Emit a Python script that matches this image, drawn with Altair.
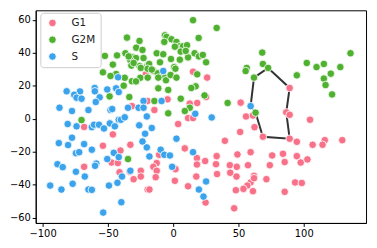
import altair as alt
import pandas as pd

# ---- data ----
g1_x = [-21, -19.7, -31.6, 15.2, 26, 25.2, -4.3, 18.4, 12.7, 51.7, -14.4, 11.4, 15.2, 55.8, 61.1,
        89.2, 86.6, 89.2, 104.8, -68.2, -46.2, -53.8, -32.8, -40.4, -47.2, -42.4, -68.2, -41.1,
        -33.3, -24.8, -30.3, -24.8, -19.5, 3.8, 62.3, 51.3, 39.6, 8.9, -10.8, 33.3, 49.2, 59.3,
        24.5, 18.2, -12.6, 32.8, 18.2, 43.4, 57.3, -15.2, 1.8, -12.6, 48.7, 43.7, 33.6, 17.7,
        -13.4, 48.5, 61.9, 1.3, 59.3, 56.8, 53.8, 48, 11.4, -18.2, 61.1, 24.8, 46.7, 68.7, 89.2,
        94.7, 116.1, 106.8, 114.4, 129.5, 75.8, 84.1, 94.7, 74, 85.4, 97.7, 102.8, 61.9, 71.4,
        93.4, 98.5, 85.4]
g1_y = [27, 10.8, 7.7, 28.6, 25, 13.2, 11.8, 9.6, 9.2, 9.8, 5.3, 0.4, 0.4, 1.4, 2,
        18.7, 3.9, 2.4, -0.6, -5, -9.5, -16.4, -15.8, -19.3, -26.6, -26.9, -29.2, -32.5,
        -32.2, -31.6, -36.7, -35.1, -43, -3.2, -5.1, -8, -13.4, -18, -21.9, -22.7, -21.7, -20.3,
        -25.7, -23.9, -26.9, -27.6, -27.8, -28.2, -28.2, -29.2, -30.6, -31.6, -29.2, -32.8, -33.6, -35.1,
        -35.5, -35.1, -34.7, -37.7, -38.7, -40.6, -42.6, -43.4, -41, -43, -44, -50.9, -54.4, -10.9, -12.1,
        -14, -13, -15.8, -15.8, -13, -22.3, -21.3, -22.7, -28.2, -26.3, -26.6, -24.7, -36.1, -36.7,
        -38.7, -39, -44.4]

g2m_x = [-35.4, -25.8, -28.3, -23.5, -36.6, -52.3, -43, -31, -28.5, -22.7, -32.8, -46.2, -32, -25.8,
         -19.7, -24.8, -53.8, -43.7, -48, -37.1, -25.2, -19.5, -31.6, -28.5, -37.9, -48.7, -33.6,
         -70.2, -34.6, -34.1, -30.3,
         15.2, 33.3, 19.5, -6.3, -5.1, -1.3, -6.8, 2.5, 5.1, 1.3, 7.6, 10.6, 5.8, -12.6, -7.6,
         16.4, 19.7, -1.7, 5.1, 11.4, -10.1, -18.4, 25.2, -19.5, -15.2, 0.8, 1.7, -11.9, -8.3,
         -6.3, -5.5, -2, 18.4, -11.4, -3.8, 17.2, 13.9, 24, 5.8, -14.4, 41.7, 12.7, 8.9, -3.8,
         56.3, 55.5, 61.9, 9.6, 22.7, -16.4, -11.4, 2.5,
         68.2, 68.7, 72.7, 63.1, 102.3, 109.8, 115.4, 128, 135.8, 94.7, 120.7, 115.4, 116.7, 121.7]
g2m_y = [49.3, 47.3, 43.2, 41.8, 39.8, 38.2, 38.5, 37.3, 36.9, 36.9, 35.5, 32.9, 32.3, 32,
         32.3, 30.9, 28.2, 27.2, 26, 24.9, 24.9, 25, 22.8, 22.7, 20.1, 13.6, 13.2,
         -0.8, -24.5, 37.9, 33.9,
         59.9, 55.2, 49.1, 50.7, 49.7, 48.3, 46.7, 46.7, 44.1, 43.8, 44.1, 44.7, 40.8, 39.8, 39.2,
         39.8, 37.9, 36.3, 35.9, 37.3, 34.3, 33.3, 34.3, 30.4, 29, 31.4, 30.4, 27.6, 25.6,
         25, 23.4, 26.6, 27, 18.5, 17.5, 19.7, 18.7, 14.2, 12.2, 10.8, 9.6, 6.7, 4.7, 3.3,
         30.9, 29, 25, 41.2, 38.8, 29.9, 25, 25,
         40.2, 33.3, 30.9, 3.7, 33.9, 31.4, 33.3, 31.4, 39.8, 26.4, 27.4, 24.4, 20.5, 14.8]

s_x = [-42.2, -60.1, -50.5, -43.7, -41.7, -81.6, -71.4, -60, -75.8, -74, -70.2, -56.3, -59.3, -22.7,
       -87.1, -77.5, -64.9, -48, -46.7, -34.6, -26.5, -22.7, -41.7, -40, -37.1,
       -80.8, -74, -62.3, -60.6, -56.8, -53, -48.5, -44.7, -26, -21.5, -77.5, -87.6, -80.5, -68.2,
       -23.5, -20.2, -62.3, -74.5, -72, -45.5, -41.7, -50.5, -58.9, -59.8, -88.6, -84.6, -74.5,
       -32.8, -39.2, -67.7, -94.2, -85.6, -77, -64.9, -62.3, -49.2, -42.7, -39.7, -53.6,
       -7.6, -8.9, 16.9, -20.2, 29.5, 59.3,
       -16.4, 2.5, -9.6, 15.2, -6.8, -2.5, -18.2, -0.8, 25.2, 19.7, 23.2]
s_y = [25.2, 18.7, 17.8, 18.5, 16.2, 16.7, 16.6, 16.7, 14.6, 12.8, 12.2, 13, 10.2, 10.8,
       6.7, 4.7, 5.3, 5.3, 5.9, 6.7, 6.7, 6.7, -0.6, -0.6, 0.9,
       -3.2, -4.6, -5.1, -3.6, -3.6, -5.9, -2.8, -4.6, -4, -9.1, -11.5, -14.8, -16, -15.4,
       -13.8, -17.4, -18.8, -20.9, -20.3, -20.7, -23.3, -24.5, -27.2, -28.6, -27.6, -29.4, -32.2,
       -31.6, -35.1, -35.1, -40.6, -43, -39.5, -43, -43.2, -40.6, -38.9, -50.7, -57,
       29, 10.8, 3, 1.4, 0.8, 7.7,
       -5.6, -12.1, -18.8, -20.3, -21.9, -22.3, -22.9, -29.2, -38.1, -43, -47.3]

hull_x = [61.9, 72.7, 89.2, 86.6, 89.2, 68.7, 63.1, 59.3, 61.9]
hull_y = [25, 30.9, 18.7, 3.9, -12.1, -10.9, 3.7, 7.7, 25]

groups = ["G1", "G2M", "S"]
colors = ["#f77189", "#50b131", "#3ba3ec"]
x_ticks = [-100, -50, 0, 50, 100]
y_ticks = [-60, -40, -20, 0, 20, 40, 60]

# ---- tables ----
rows = []
for g, xs, ys in zip(groups, [g1_x, g2m_x, s_x], [g1_y, g2m_y, s_y]):
    for a, b in zip(xs, ys):
        rows.append({"x": a, "y": b, "phase": g})
pts = pd.DataFrame(rows)
hull = pd.DataFrame({"x": hull_x, "y": hull_y, "i": list(range(len(hull_x)))})

xscale = alt.Scale(domain=[-105.3, 147.7], nice=False, zero=False)
yscale = alt.Scale(domain=[-63.3, 65.9], nice=False, zero=False)

xaxis = alt.Axis(values=x_ticks, title=None, grid=False)
yaxis = alt.Axis(values=y_ticks, title=None, grid=False)

line = alt.Chart(hull).mark_line(color="#333333", strokeWidth=2).encode(
    x=alt.X("x:Q", scale=xscale, axis=xaxis),
    y=alt.Y("y:Q", scale=yscale, axis=yaxis),
    order="i:Q",
)

points = alt.Chart(pts).mark_circle(size=58, opacity=1, stroke="white", strokeWidth=0.8).encode(
    x=alt.X("x:Q", scale=xscale, axis=xaxis),
    y=alt.Y("y:Q", scale=yscale, axis=yaxis),
    color=alt.Color("phase:N", scale=alt.Scale(domain=groups, range=colors),
                    legend=alt.Legend(title=None, orient="none", legendX=4.7, legendY=2.5)),
)

chart = alt.layer(line, points).properties(
    width=334, height=215,
    autosize=alt.AutoSizeParams(type="none"),
    padding={"left": 28, "top": 1, "right": 3, "bottom": 24},
).configure_view(
    stroke="black", strokeWidth=1
).configure_axis(
    domainColor="black", tickColor="black", tickSize=3.5, labelFont="DejaVu Sans",
    labelFontSize=10, labelColor="black", labelPadding=2, domainWidth=1, tickWidth=1,
).configure_legend(
    fillColor="white", strokeColor="#cccccc", cornerRadius=3, padding=5,
    symbolType="circle", symbolSize=58, symbolStrokeColor="white", symbolStrokeWidth=0.8,
    symbolOffset=2, labelFont="DejaVu Sans", labelFontSize=10.5, labelColor="#222222",
    rowPadding=5, labelOffset=14,
)

chart.save("out.html", embed_options={"renderer": "svg", "actions": False})
